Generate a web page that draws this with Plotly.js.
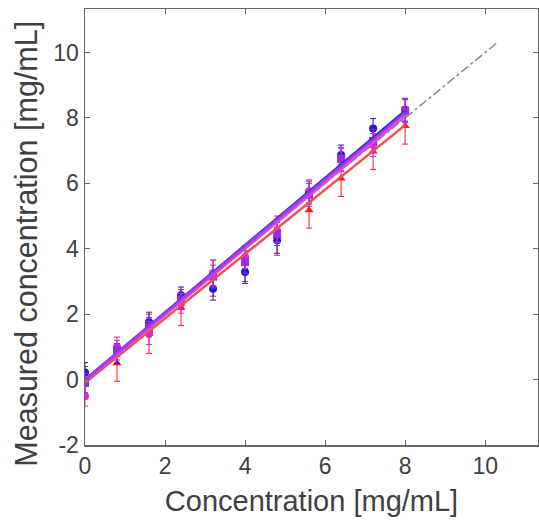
<!DOCTYPE html>
<html><head><meta charset="utf-8">
<script src="https://cdn.plot.ly/plotly-3.0.1.min.js"></script>
<style>html,body{margin:0;padding:0;background:#fff}#plot{width:539px;height:524px}</style>
</head><body><div id="plot"></div>
<script>
const conc = [0, 0.8, 1.6, 2.4, 3.2, 4.0, 4.8, 5.6, 6.4, 7.2, 8.0];
const blueVals = [0.22, 0.80, 1.76, 2.58, 2.78, 3.29, 4.26, 5.72, 6.87, 7.68, 8.25];
const blueErr = [0.30, 0.30, 0.30, 0.25, 0.35, 0.35, 0.40, 0.35, 0.30, 0.30, 0.35];
const magVals = [-0.51, 1.00, 1.42, 2.33, 3.26, 3.75, 4.55, 5.76, 6.71, 7.17, 8.20];
const magErr = [0.30, 0.30, 0.35, 0.30, 0.40, 0.35, 0.35, 0.35, 0.35, 0.35, 0.35];
const redVals = [-0.05, 0.50, 1.40, 2.20, 3.10, 3.55, 4.40, 5.18, 6.15, 6.97, 7.75];
const redErr = [0.45, 0.55, 0.60, 0.55, 0.55, 0.55, 0.60, 0.55, 0.55, 0.55, 0.55];
const purVals = [-0.10, 0.90, 1.60, 2.45, 3.15, 3.60, 4.45, 5.65, 6.75, 7.30, 8.22];
const purErr = [0.30, 0.30, 0.30, 0.30, 0.35, 0.35, 0.35, 0.35, 0.35, 0.35, 0.35];
const fitX = [0, 8];
const blueFit = [0.00, 8.22];
const purFit = [0.00, 8.15];
const magFit = [-0.05, 8.05];
const redFit = [-0.10, 7.78];
const identX = [0, 10.3];
const identY = [0, 10.3];
const xTicks = [0, 2, 4, 6, 8, 10];
const yTicks = [-2, 0, 2, 4, 6, 8, 10];
const xTitle = 'Concentration [mg/mL]';
const yTitle = 'Measured concentration [mg/mL]';

function pts(y, err, color, symbol){
  return {x: conc, y: y, mode: 'markers', type: 'scatter',
    marker: {color: color, size: 8, symbol: symbol},
    error_y: {type: 'data', array: err, visible: true, color: color, thickness: 1, width: 3},
    showlegend: false, hoverinfo: 'skip'};
}
function line(y, color){
  return {x: fitX, y: y, mode: 'lines', type: 'scatter', line: {color: color, width: 2.5}, showlegend: false, hoverinfo: 'skip'};
}
const data = [
  {x: identX, y: identY, mode: 'lines', type: 'scatter', line: {color: '#888', width: 1.5, dash: 'dashdot'}, showlegend: false},
  pts(redVals, redErr, '#ff1a1a', 'triangle-up'),
  pts(blueVals, blueErr, '#1a1adb', 'circle'),
  pts(magVals, magErr, '#ee22dd', 'circle'),
  pts(purVals, purErr, '#9a2ae6', 'square'),
  line(redFit, '#f0504a'),
  line(magFit, '#ee44cc'),
  line(blueFit, '#3c2fc8'),
  line(purFit, '#9a40f0')
];
const FONT = 'Liberation Sans, Arial, sans-serif';
const axCommon = {showgrid: false, zeroline: false, showline: true, mirror: 'ticks',
  linecolor: '#666', linewidth: 1.5, ticks: 'inside', ticklen: 5, tickcolor: '#666',
  tickfont: {family: FONT, size: 23, color: '#404040'}};
const layout = {
  width: 539, height: 524,
  margin: {l: 85, r: 1, t: 9, b: 79},
  paper_bgcolor: '#fff', plot_bgcolor: '#fff',
  xaxis: Object.assign({}, axCommon, {range: [0, 11.32], tickvals: xTicks, ticktext: xTicks.map(String),
    title: {text: xTitle, standoff: 12, font: {family: FONT, size: 29, color: '#404040'}}}),
  yaxis: Object.assign({}, axCommon, {range: [-2, 11.33], tickvals: yTicks, ticktext: yTicks.map(String)}),
  annotations: [{text: yTitle, textangle: -90, xref: 'paper', yref: 'paper',
    x: -0.13, y: 0.462, xanchor: 'center', yanchor: 'middle', showarrow: false,
    font: {family: FONT, size: 30.5, color: '#404040'}}]
};
Plotly.newPlot('plot', data, layout, {staticPlot: true, displayModeBar: false});
</script></body></html>
